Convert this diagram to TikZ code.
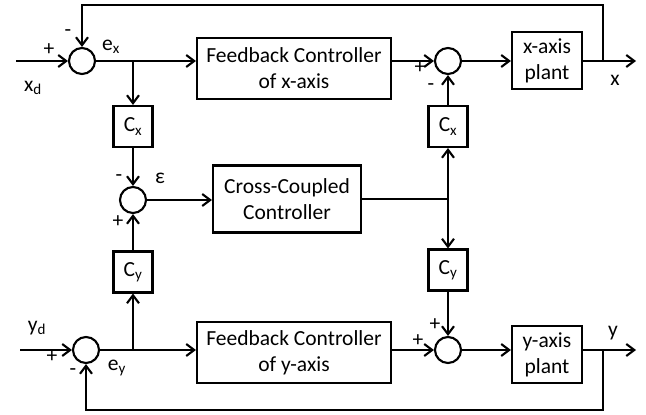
\documentclass[tikz,border=0pt]{standalone}
\usepackage{fontspec}
\setmainfont{Carlito}
\usetikzlibrary{arrows.meta}

\begin{document}
\begin{tikzpicture}[x=1pt, y=-1pt, line width=2.1pt,
    >={Straight Barb[length=8pt,width=12pt]},
    every node/.style={font=\fontsize{21.5}{26}\selectfont},
    block/.style={draw, inner sep=0pt, align=center},
    sumnode/.style={draw, circle, minimum size=26pt, inner sep=0pt},
    lbl/.style={inner sep=0pt}]
	\useasboundingbox (0,0) rectangle (646,415);
	
	% Blocchi dell'asse x
	\node[sumnode] (sx) at (82,61) {};
	\node[block, minimum width=194pt, minimum height=61pt] (fcx) at (294,68.5) {Feedback Controller\\of x-axis};
	\node[sumnode] (sxo) at (448,61) {};
	\node[block, minimum width=70pt, minimum height=57pt] (px) at (547,60.5) {x-axis\\plant};
	
	% Guadagni e controllore accoppiato
	\node[block, minimum width=39pt, minimum height=41pt] (cxa) at (133,126.5) {C\textsubscript{x}};
	\node[block, minimum width=39pt, minimum height=41pt] (cxb) at (448,126.5) {C\textsubscript{x}};
	\node[sumnode] (se) at (133,200) {};
	\node[block, minimum width=148pt, minimum height=67pt] (ccc) at (287,199) {Cross-Coupled\\Controller};
	\node[block, minimum width=39pt, minimum height=41pt] (cya) at (133,272) {C\textsubscript{y}};
	\node[block, minimum width=39pt, minimum height=41pt] (cyb) at (448,270) {C\textsubscript{y}};
	
	% Blocchi dell'asse y
	\node[sumnode] (sy) at (86,350) {};
	\node[block, minimum width=194pt, minimum height=61pt] (fcy) at (294,352.5) {Feedback Controller\\of y-axis};
	\node[sumnode] (syo) at (448,350) {};
	\node[block, minimum width=70pt, minimum height=57pt] (py) at (547,354.5) {y-axis\\plant};
	
	% Punti di ingresso, uscita e diramazione
	\coordinate (xin)  at (16,61);
	\coordinate (xout) at (636,61);
	\coordinate (yin)  at (20,350);
	\coordinate (yout) at (636,350);
	\coordinate (bx) at (cxa.north |- sx);
	\coordinate (by) at (cya.south |- sy);
	\coordinate (tx) at (603,61);
	\coordinate (ty) at (603,350);
	\coordinate (jc) at (ccc.east -| cxb);
	
	% Collegamenti asse x
	\draw[->] (xin) -- (sx);
	\draw[->] (sx) -- (sx -| fcx.west);
	\draw[->] (fcx.east |- sxo) -- (sxo);
	\draw[->] (sxo) -- (sxo -| px.west);
	\draw[->] (px.east |- sxo) -- (xout);
	\draw[->] (tx) -- (tx |- 0,5) -| (sx);
	
	% Collegamenti incrociati
	\draw[->] (bx) -- (cxa);
	\draw[->] (cxa) -- (se);
	\draw[->] (by) -- (cya);
	\draw[->] (cya) -- (se);
	\draw[->] (se) -- (se -| ccc.west);
	\draw (ccc.east) -- (jc);
	\draw[->] (jc) -- (cxb);
	\draw[->] (jc) -- (cyb);
	\draw[->] (cxb) -- (sxo);
	\draw[->] (cyb) -- (syo);
	
	% Collegamenti asse y
	\draw[->] (yin) -- (sy);
	\draw[->] (sy) -- (sy -| fcy.west);
	\draw[->] (fcy.east |- syo) -- (syo);
	\draw[->] (syo) -- (syo -| py.west);
	\draw[->] (py.east |- syo) -- (yout);
	\draw[->] (ty) -- (ty |- 0,410) -| (sy);
	
	% Segni ed etichette
	\node[lbl] (px1) at (49,50) {+};
	\node[lbl] (mx1) at (68,33) {-};
	\node[lbl] (ex) at (111,47) {e\textsubscript{x}};
	\node[lbl] (xd) at (33,88) {x\textsubscript{d}};
	\node[lbl] (px2) at (420,68) {+};
	\node[lbl] (mx2) at (431,87) {-};
	\node[lbl] (xo) at (615,80) {x};
	\node[lbl] (eps) at (160,178) {ε};
	\node[lbl] (me) at (119,178) {-};
	\node[lbl] (pe) at (118,222) {+};
	\node[lbl] (yd) at (37,328) {y\textsubscript{d}};
	\node[lbl] (py1) at (52,357) {+};
	\node[lbl] (my1) at (73,372) {-};
	\node[lbl] (ey) at (117,368) {e\textsubscript{y}};
	\node[lbl] (py2) at (418,341) {+};
	\node[lbl] (py3) at (435,325) {+};
	\node[lbl] (yo) at (613,333) {y};
\end{tikzpicture}
\end{document}
